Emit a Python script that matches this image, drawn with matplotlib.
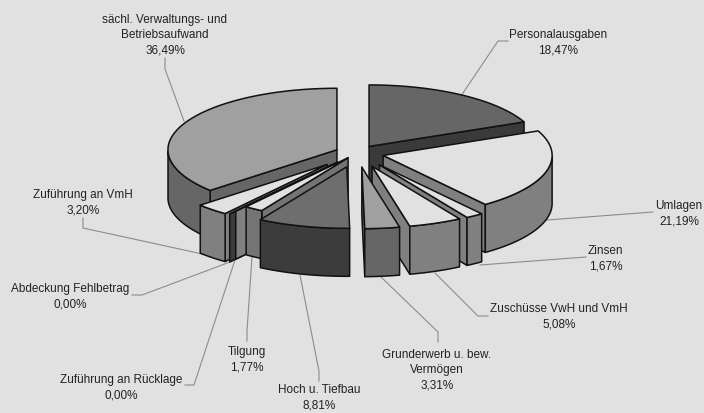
import numpy as np
import matplotlib.pyplot as plt
from matplotlib.patches import Polygon

# Werte im Uhrzeigersinn ab 12 Uhr
names = ["Personalausgaben", "Umlagen", "Zinsen", "Zuschüsse VwH und VmH",
         "Grunderwerb u. bew.\nVermögen", "Hoch u. Tiefbau", "Tilgung",
         "Zuführung an Rücklage", "Abdeckung Fehlbetrag", "Zuführung an VmH",
         "sächl. Verwaltungs- und\nBetriebsaufwand"]
values = [18.47, 21.19, 1.67, 5.08, 3.31, 8.81, 1.77, 0.00, 0.00, 3.20, 36.49]

# Explosion, Farben, Zeichenreihenfolge
explode = [22, 27, 40, 40, 40, 40, 16, 32, 42, 44, 22]
top_colors = ['#666666', '#e1e1e1', '#e1e1e1', '#e1e1e1', '#a0a0a0', '#6e6e6e',
              '#e1e1e1', '#808080', '#3c3c3c', '#e1e1e1', '#a0a0a0']
side_colors = ['#3a3a3a', '#808080', '#808080', '#808080', '#666666', '#3c3c3c',
               '#747474', '#808080', '#3c3c3c', '#808080', '#666666']
order = [10, 0, 1, 9, 8, 7, 6, 5, 2, 3, 4]

# Position der Beschriftungen (Mitte) und Führungslinien
label_x = [558.5, 679, 605.5, 559, 437, 319, 247, 121, 70, 83, 165]
label_y = [43, 214, 259, 317, 370, 398, 360, 388, 297, 203, 35]
leaders = [[(508, 42), (498, 42), (461, 97)],
           [(653, 213), (547, 221)],
           [(586, 258), (480, 266)],
           [(488, 317), (478, 317), (435, 274)],
           [(438, 343), (438, 333), (381, 278)],
           [(319, 382), (319, 372), (300, 276)],
           [(247, 342), (247, 332), (252, 258)],
           [(185, 386), (194, 386), (235, 261)],
           [(132, 296), (142, 296), (230, 263)],
           [(83, 219), (83, 229), (207, 256)],
           [(165, 59), (165, 70), (184, 122)]]

cx, cy = 357, 154
rx, ry = 169, 61.5
depth = 48
edge = '#111111'
bg = '#e1e1e1'

plt.rcParams['font.family'] = ['Liberation Sans', 'DejaVu Sans']

fig = plt.figure(figsize=(7.04, 4.14), dpi=100, facecolor=bg)
ax = fig.add_axes([0, 0, 1, 1])
ax.set_xlim(0, 704)
ax.set_ylim(414, 0)
ax.axis('off')


def point(px, py, a):
    return px + rx * np.sin(a), py - ry * np.cos(a)


def poly(pts, color):
    ax.add_patch(Polygon(pts, closed=True, facecolor=color, edgecolor=edge,
                         linewidth=1.1, joinstyle='round'))


# Führungslinien liegen unter dem Kuchen
for line in leaders:
    xs = [p[0] for p in line]
    ys = [p[1] for p in line]
    ax.plot(xs, ys, color='#8c8c8c', linewidth=0.8, zorder=0)

cum = np.cumsum([0] + values)
total = cum[-1]

for i in order:
    a0 = cum[i] / total * 2 * np.pi
    a1 = cum[i + 1] / total * 2 * np.pi
    mid = (a0 + a1) / 2
    px = cx + explode[i] * np.sin(mid)
    py = cy - explode[i] * 60 / 168 * np.cos(mid)

    # Schnittflächen
    if np.sin(a0) < 0:
        ox, oy = point(px, py, a0)
        poly([(px, py), (ox, oy), (ox, oy + depth), (px, py + depth)], side_colors[i])
    if np.sin(a1) > 0:
        ox, oy = point(px, py, a1)
        poly([(px, py), (ox, oy), (ox, oy + depth), (px, py + depth)], side_colors[i])

    # Außenwand, nur der vordere Teil des Bogens
    ang = np.linspace(a0, a1, 80)
    front = ang[np.cos(ang) <= 0]
    if len(front) > 1 and a1 > a0:
        ox, oy = point(px, py, front)
        poly(list(zip(ox, oy)) + list(zip(ox[::-1], oy[::-1] + depth)), side_colors[i])

    # Deckfläche
    ox, oy = point(px, py, ang)
    poly([(px, py)] + list(zip(ox, oy)), top_colors[i])

for name, v, x, y in zip(names, values, label_x, label_y):
    txt = name + "\n" + f"{v:.2f}".replace('.', ',') + "%"
    ax.text(x, y, txt, ha='center', va='center', fontsize=8.5, color='#222222',
            linespacing=1.34)

fig.savefig('out.png', dpi=100, facecolor=bg)
